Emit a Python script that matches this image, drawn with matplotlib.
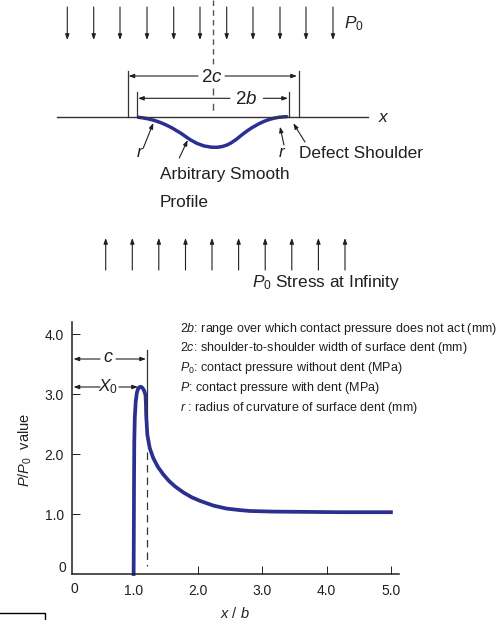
"""Contact pressure around a surface dent: schematic on top, P/P0 curve below."""
import matplotlib
matplotlib.use("Agg")
import matplotlib.pyplot as plt
from matplotlib.patches import PathPatch
from matplotlib.path import Path

plt.rcParams["font.family"] = ["Liberation Sans", "DejaVu Sans"]
plt.rcParams["mathtext.fontset"] = "custom"
plt.rcParams["mathtext.rm"] = "Liberation Sans"
plt.rcParams["mathtext.it"] = "Liberation Sans:italic"

INK = "#231f20"
BLUE = "#2b3090"

# pressure curve
x_over_b = [1.0, 1.003, 1.006, 1.01, 1.018, 1.032, 1.05, 1.07, 1.09, 1.114, 1.14, 1.165, 1.185, 1.192, 1.195,
            1.213, 1.25, 1.306, 1.38, 1.461, 1.55, 1.643, 1.772, 1.9, 2.03, 2.24, 2.447, 2.65, 2.81, 3.17, 4.21, 5.0]
p_over_p0 = [0.0, 0.7, 1.48, 2.2, 2.6, 2.87, 3.02, 3.09, 3.115, 3.12, 3.1, 3.05, 2.98, 2.8, 2.65,
             2.32, 2.1, 1.93, 1.78, 1.66, 1.55, 1.46, 1.36, 1.28, 1.22, 1.14, 1.09, 1.065, 1.05, 1.04, 1.03, 1.03]
x_ticks = [1, 2, 3, 4, 5]
x_labels = ["1.0", "2.0", "3.0", "4.0", "5.0"]
y_ticks = [1, 2, 3, 4]
y_labels = ["1.0", "2.0", "3.0", "4.0"]

# dent profile in the schematic (pixels): bezier knots and handles
dent_verts = [(138.3, 117.3),
              (156, 119), (171, 126), (186.7, 137.3),
              (196, 144), (205, 147.3), (215, 147.3),
              (230, 147.3), (237, 138), (247, 131),
              (260, 122), (272, 116.9), (286.7, 116.7)]

top_arrow_x = [67.3, 93.7, 120, 147, 173.7, 200, 226.7, 253, 280, 306, 333]
bottom_arrow_x = [105.7, 132.3, 158.8, 185.5, 212, 238.6, 265.2, 291.8, 318.4, 345]

legend_lines = [
    r"2$\mathit{b}$: range over which contact pressure does not act (mm)",
    r"2$\mathit{c}$: shoulder-to-shoulder width of surface dent (mm)",
    r"$\mathit{P}_{0}$: contact pressure without dent (MPa)",
    r"$\mathit{P}$: contact pressure with dent (MPa)",
    r"$\mathit{r}$ : radius of curvature of surface dent (mm)",
]
legend_y = [329, 348, 368, 388, 408]

fig = plt.figure(figsize=(5.0, 6.2), dpi=100)


def to_fig(px, py):
    return px / 500, 1 - py / 620


# ---------------------------------------------------------------- chart
left, bottom = to_fig(72, 574)
right, top = to_fig(399, 322)
ax = fig.add_axes([left, bottom, right - left, top - bottom])
ax.plot(x_over_b, p_over_p0, color=BLUE, lw=2.7, solid_joinstyle="round", clip_on=False)
ax.set_xlim(0.042, 5.125)  # the printed scale starts a little left of the axis line
ax.set_ylim(0, 4.2)
ax.set_xticks(x_ticks, x_labels)
ax.set_yticks(y_ticks, y_labels)
ax.tick_params(axis="x", direction="in", length=5.5, width=0.7, pad=7, labelsize=10, colors=INK)
ax.tick_params(axis="y", direction="in", length=5.8, width=0.7, pad=6, labelsize=10, colors=INK)
for side in ("top", "right"):
    ax.spines[side].set_visible(False)
for side in ("left", "bottom"):
    ax.spines[side].set_linewidth(1.1)
    ax.spines[side].set_color(INK)

# ---------------------------------------------------------------- overlay in pixels
ov = fig.add_axes([0, 0, 1, 1])
ov.set_xlim(0, 500)
ov.set_ylim(620, 0)
ov.axis("off")
ov.patch.set_alpha(0)


def line(xs, ys, lw=0.9, **kw):
    ov.plot(xs, ys, color=kw.pop("color", "#333333"), lw=lw, **kw)


def arrow(x0, y0, x1, y1, size=6):
    ov.annotate("", xy=(x1, y1), xytext=(x0, y0),
                arrowprops=dict(arrowstyle="-|>,head_width=0.2,head_length=0.55", mutation_scale=size,
                                lw=0.8, color=INK, shrinkA=0, shrinkB=0))


def label(x, y, s, size=12.4, ha="left", **kw):
    ov.text(x, y, s, fontsize=size, ha=ha, va="center", color=INK, **kw)


for x in top_arrow_x:
    arrow(x, 7, x, 40)
for x in bottom_arrow_x:
    arrow(x, 270, x, 238)

line([57, 368], [117, 117], lw=1.0)
line([212.7, 212.7], [0, 64], lw=1.0, ls=(0, (4, 3)), color="#555555")
line([212.7, 212.7], [88, 117], lw=1.0, ls=(0, (5, 6)), color="#555555")
line([127.7, 127.7], [71, 117])
line([298.7, 298.7], [71, 117])
line([136.7, 136.7], [92, 117])
line([289.3, 289.3], [92, 117])
dent_codes = [Path.MOVETO] + [Path.CURVE4] * (len(dent_verts) - 1)
ov.add_patch(PathPatch(Path(dent_verts, dent_codes), fc="none", ec=BLUE, lw=2.5, capstyle="round"))

arrow(198, 76, 128.5, 76)
arrow(225, 76, 297, 76)
arrow(230, 98.3, 138, 98.3)
arrow(263.3, 98.3, 288, 98.3)
arrow(143.3, 148, 153.3, 123)
arrow(179.3, 158, 187.7, 140)
arrow(284, 145, 280, 126.7)
arrow(305, 142, 293.3, 123.3)

label(211.7, 78, r"2$\mathit{c}$", size=13.5, ha="center")
label(246, 99.5, r"2$\mathit{b}$", size=13.5, ha="center")
label(344, 24, r"$\mathit{P}_{0}$")
label(378, 117, r"$\mathit{x}$")
label(140, 152.7, r"$\mathit{r}$", ha="center")
label(281.7, 152.7, r"$\mathit{r}$", ha="center")
label(299.3, 154, "Defect Shoulder")
label(160, 174, "Arbitrary Smooth")
label(160, 202.7, "Profile")
label(252.3, 283, r"$\mathit{P}_{0}$ Stress at Infinity")

# dimension marks on the chart
line([147.3, 147.3], [350, 416], lw=0.9)
line([147.3, 147.3], [452, 566], lw=0.9, ls=(0, (6, 4)))
arrow(100, 359, 73.5, 359)
arrow(116, 359, 146, 359)
arrow(100, 387, 73.5, 387)
arrow(119, 387, 138, 387)
label(108, 358, r"$\mathit{c}$", ha="center", size=13)
label(108, 387, r"$\mathit{X}_{0}$", ha="center", size=12.4)

for s, y in zip(legend_lines, legend_y):
    label(180, y, s, size=9.0)

# the two zero labels sit off the tick grid in the original
label(74, 589, "0", size=10, ha="center")
label(62, 568, "0", size=10, ha="center")
label(25.5, 450, r"$\mathit{P/P}_{0}$  value", size=10.5, ha="center", rotation=90)
label(235, 613, r"$\mathit{x}$ / $\mathit{b}$", size=10.5, ha="center")

# corner of a box cut off at the bottom edge
line([0, 45, 45], [613, 613, 620], lw=1.0, color="black")

fig.savefig("out.png", dpi=100)
